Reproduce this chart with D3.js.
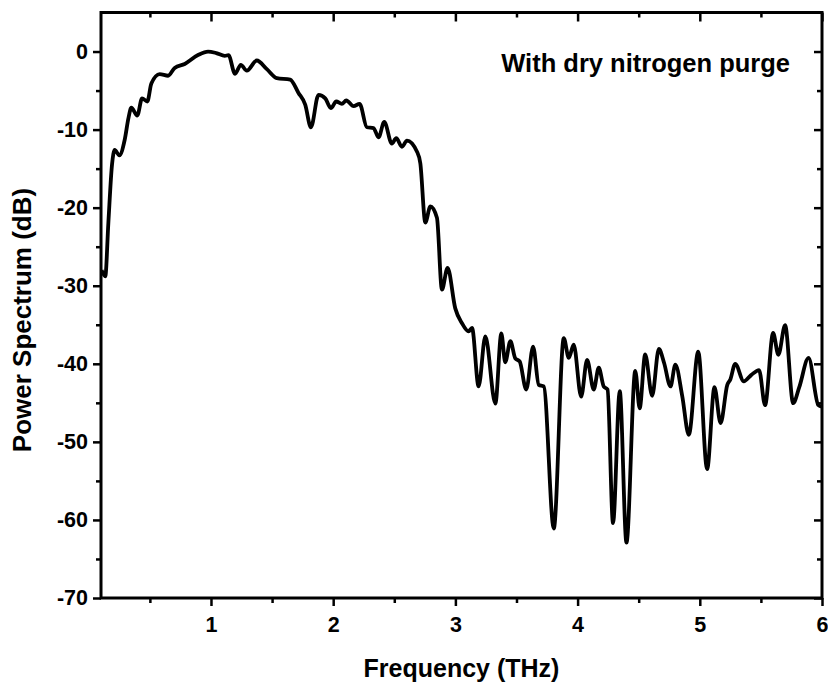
<!DOCTYPE html>
<html>
<head>
<meta charset="utf-8">
<script src="https://cdn.jsdelivr.net/npm/d3@7"></script>
<style>
  html, body { margin: 0; padding: 0; background: #fff; }
  svg { display: block; font-family: "Liberation Sans", Arial, sans-serif; font-weight: bold; }
</style>
</head>
<body>
<svg id="chart" width="828" height="688"></svg>
<script>
// ---- data ----
const freq = [0.105, 0.135, 0.16, 0.19, 0.212, 0.25, 0.294, 0.325, 0.348, 0.397, 0.436, 0.479, 0.512, 0.58, 0.649, 0.703, 0.785, 0.894, 0.976, 1.044, 1.113, 1.143, 1.197, 1.244, 1.293, 1.375, 1.457, 1.539, 1.648, 1.716, 1.771, 1.818, 1.88, 1.935, 1.981, 2.025, 2.071, 2.107, 2.167, 2.216, 2.276, 2.33, 2.371, 2.418, 2.48, 2.516, 2.563, 2.604, 2.685, 2.713, 2.754, 2.795, 2.849, 2.89, 2.936, 2.999, 3.054, 3.108, 3.136, 3.19, 3.245, 3.327, 3.376, 3.408, 3.45, 3.49, 3.526, 3.58, 3.636, 3.682, 3.723, 3.805, 3.887, 3.928, 3.968, 4.029, 4.078, 4.132, 4.173, 4.214, 4.245, 4.29, 4.345, 4.40, 4.472, 4.508, 4.553, 4.61, 4.665, 4.708, 4.76, 4.80, 4.856, 4.91, 4.987, 5.06, 5.12, 5.17, 5.225, 5.25, 5.29, 5.36, 5.42, 5.485, 5.534, 5.60, 5.643, 5.698, 5.764, 5.814, 5.89, 5.97, 6.0];
const power = [-28.0, -28.8, -22.0, -14.5, -12.6, -13.3, -11.3, -8.5, -7.2, -8.2, -6.0, -6.4, -4.1, -2.9, -3.1, -2.1, -1.6, -0.45, 0.0, -0.2, -0.55, -0.45, -2.86, -1.7, -2.45, -1.15, -2.25, -3.4, -3.6, -5.3, -6.8, -9.7, -5.55, -6.0, -7.25, -6.4, -6.7, -6.27, -7.0, -6.7, -9.7, -9.8, -11.0, -9.0, -11.8, -11.1, -12.2, -11.4, -12.8, -14.3, -21.9, -19.85, -21.3, -30.5, -27.7, -32.9, -34.8, -35.85, -35.4, -42.9, -36.5, -45.1, -36.1, -39.8, -37.1, -39.3, -39.7, -43.3, -37.8, -42.7, -42.9, -61.1, -36.7, -39.25, -37.55, -44.2, -39.5, -43.3, -40.5, -42.9, -43.3, -60.4, -43.5, -62.9, -40.9, -45.7, -38.8, -44.1, -38.1, -39.9, -42.9, -40.1, -44.1, -49.1, -38.45, -53.5, -43.0, -47.6, -42.7, -42.0, -40.0, -42.25, -41.45, -40.8, -45.3, -36.05, -38.85, -35.05, -45.05, -43.0, -39.25, -45.3, -45.5];

const xMajorTicks = [1, 2, 3, 4, 5, 6];
const xMinorTicks = [0.5, 1.5, 2.5, 3.5, 4.5, 5.5];
const yMajorTicks = [0, -10, -20, -30, -40, -50, -60, -70];
const yMinorTicks = [-5, -15, -25, -35, -45, -55, -65];
const xTitle = "Frequency (THz)";
const yTitle = "Power Spectrum (dB)";
const annotation = "With dry nitrogen purge";

// ---- layout ----
const L = 101, R = 822, T = 12.5, B = 598;
const svg = d3.select("#chart");
const x = d3.scaleLinear().domain([0.1, 6]).range([L, R]);
const y = d3.scaleLinear().domain([-70, 5]).range([B, T]);

const fmt = d => String(d);
const tickFont = "21.5px";

// bottom axis (outward)
const gB = svg.append("g").attr("transform", `translate(0,${B})`);
gB.call(d3.axisBottom(x).tickValues(xMajorTicks).tickSize(8).tickPadding(11).tickFormat(fmt));
const gBm = svg.append("g").attr("transform", `translate(0,${B})`);
gBm.call(d3.axisBottom(x).tickValues(xMinorTicks).tickSize(5).tickFormat(""));
// top axis (inward)
const gT = svg.append("g").attr("transform", `translate(0,${T})`);
gT.call(d3.axisBottom(x).tickValues(xMajorTicks).tickSize(9).tickFormat(""));
const gTm = svg.append("g").attr("transform", `translate(0,${T})`);
gTm.call(d3.axisBottom(x).tickValues(xMinorTicks).tickSize(5).tickFormat(""));
// left axis (outward)
const gL = svg.append("g").attr("transform", `translate(${L},0)`);
gL.call(d3.axisLeft(y).tickValues(yMajorTicks).tickSize(8).tickPadding(5).tickFormat(fmt));
const gLm = svg.append("g").attr("transform", `translate(${L},0)`);
gLm.call(d3.axisLeft(y).tickValues(yMinorTicks).tickSize(5).tickFormat(""));
// right axis (inward)
const gR = svg.append("g").attr("transform", `translate(${R},0)`);
gR.call(d3.axisLeft(y).tickValues(yMajorTicks).tickSize(8).tickFormat(""));
const gRm = svg.append("g").attr("transform", `translate(${R},0)`);
gRm.call(d3.axisLeft(y).tickValues(yMinorTicks).tickSize(5).tickFormat(""));

svg.selectAll(".domain").remove();
svg.selectAll(".tick line").attr("stroke", "#000").attr("stroke-width", 2.5);
svg.selectAll(".tick text")
  .attr("fill", "#000")
  .style("font-size", tickFont)
  .style("font-weight", "bold")
  .style("font-family", '"Liberation Sans", Arial, sans-serif');

// frame
svg.append("rect")
  .attr("x", L).attr("y", T).attr("width", R - L).attr("height", B - T)
  .attr("fill", "none").attr("stroke", "#000").attr("stroke-width", 3);

// data line
const pts = freq.map((f, i) => [f, power[i]]);
svg.append("path")
  .datum(pts)
  .attr("fill", "none")
  .attr("stroke", "#000")
  .attr("stroke-width", 3.8)
  .attr("stroke-linejoin", "round")
  .attr("d", d3.line().x(d => x(d[0])).y(d => y(d[1])).curve(d3.curveMonotoneX));

// titles
svg.append("text")
  .attr("x", (L + R) / 2).attr("y", 677)
  .attr("text-anchor", "middle")
  .style("font-size", "25px")
  .text(xTitle);

svg.append("text")
  .attr("transform", `translate(31,320) rotate(-90)`)
  .attr("text-anchor", "middle")
  .style("font-size", "26px")
  .text(yTitle);

svg.append("text")
  .attr("x", 790).attr("y", 72)
  .attr("text-anchor", "end")
  .style("font-size", "25.5px")
  .text(annotation);
</script>
</body>
</html>
